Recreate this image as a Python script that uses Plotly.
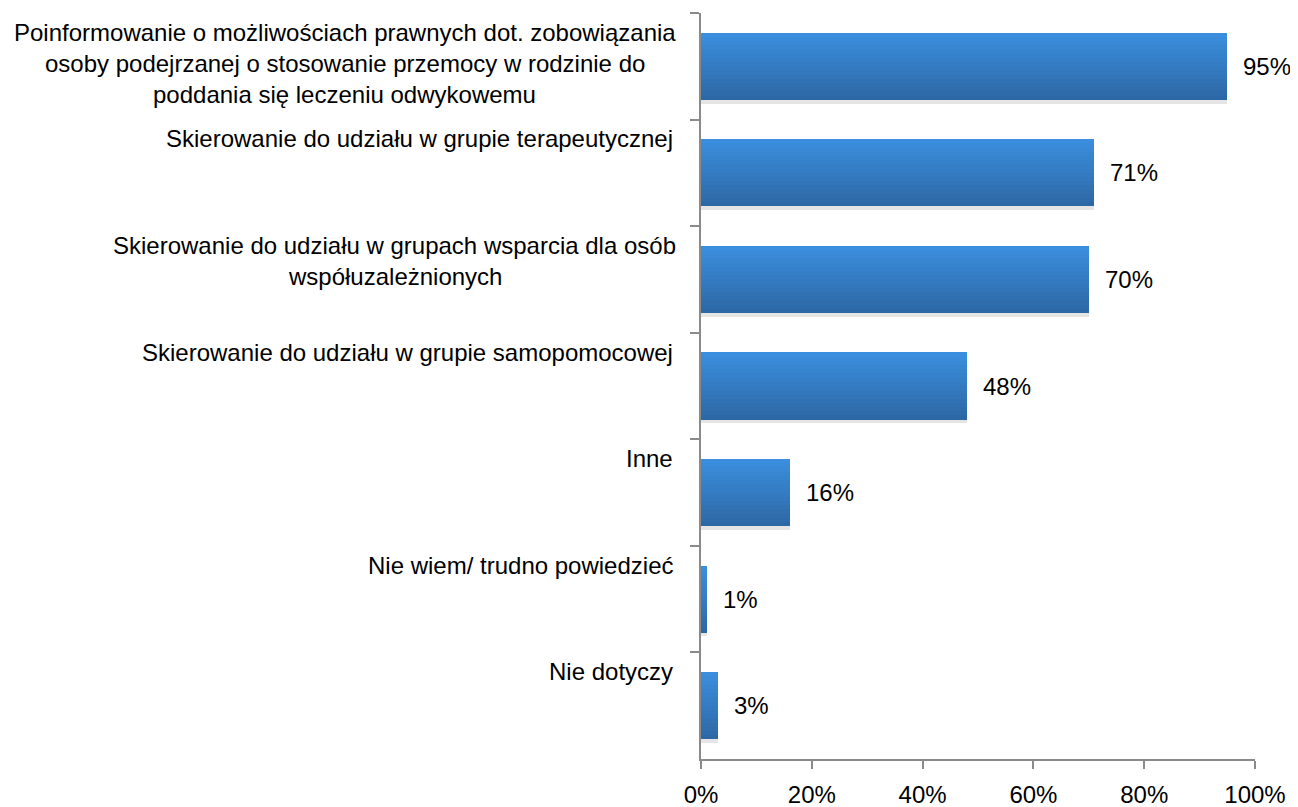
import plotly.graph_objects as go

# ---- data ----
label_lines = [
    ["Poinformowanie o możliwościach prawnych dot. zobowiązania",
     "osoby podejrzanej o stosowanie przemocy w rodzinie do",
     "poddania się leczeniu odwykowemu"],
    ["Skierowanie do udziału w grupie terapeutycznej"],
    ["Skierowanie do udziału w grupach wsparcia dla osób",
     "współuzależnionych"],
    ["Skierowanie do udziału w grupie samopomocowej"],
    ["Inne"],
    ["Nie wiem/ trudno powiedzieć"],
    ["Nie dotyczy"],
]
categories = [" ".join(l) for l in label_lines]
values = [95, 71, 70, 48, 16, 1, 3]
value_labels = ["95%", "71%", "70%", "48%", "16%", "1%", "3%"]
x_ticks = [0, 20, 40, 60, 80, 100]
x_tick_labels = ["0%", "20%", "40%", "60%", "80%", "100%"]

FONT = "Arial, Liberation Sans, sans-serif"
FS = 24
AXIS_COLOR = "#8a8a8a"

# page body has an 8px margin -> compensate so the plot lands where the reference has it
OFF = 8
W, H = 1298 - OFF, 807 - OFF
ML, MR, MT, MB = 701 - OFF, 43, 13 - OFF, 48
PLOT_W = W - ML - MR

fig = go.Figure()

BAR_W = 0.63
# soft shadow under each bar
fig.add_trace(go.Bar(
    x=values, y=categories, orientation="h",
    width=BAR_W, offset=-BAR_W / 2 + 0.035,
    marker=dict(color="rgba(0,0,0,0.10)", line=dict(width=0)),
    hoverinfo="skip", showlegend=False,
))

# vertical gradient built from thin strips
top = (59, 142, 221)
bot = (45, 104, 166)
N = 16
step = BAR_W / N
for i in range(N):
    t = i / (N - 1)
    c = tuple(round(top[k] + (bot[k] - top[k]) * t) for k in range(3))
    fig.add_trace(go.Bar(
        x=values, y=categories, orientation="h",
        width=step * 1.15 if i < N - 1 else step,
        offset=-BAR_W / 2 + i * step,
        marker=dict(color="rgb(%d,%d,%d)" % c, line=dict(width=0)),
        hoverinfo="skip", showlegend=False,
    ))

annotations = []
# value labels
for cat, v, lab in zip(categories, values, value_labels):
    annotations.append(dict(
        x=v, y=cat, xref="x", yref="y", text=lab, showarrow=False,
        xanchor="left", yanchor="middle", xshift=14,
        font=dict(family=FONT, size=FS, color="#000000"),
    ))

# category labels (Excel-like: first line sits above band center)
block_widths = {0: 661, 2: 561}
RIGHT_EDGE = 675 - OFF
LINE_SP = 31
for idx, (cat, lines) in enumerate(zip(categories, label_lines)):
    for k, line in enumerate(lines):
        if len(lines) == 1:
            ax = (RIGHT_EDGE - ML) / PLOT_W
            xa = "right"
        else:
            cx = RIGHT_EDGE - block_widths[idx] / 2
            ax = (cx - ML) / PLOT_W
            xa = "center"
        annotations.append(dict(
            x=ax, y=cat, xref="paper", yref="y", text=line, showarrow=False,
            xanchor=xa, yanchor="middle", yshift=34 - LINE_SP * k,
            font=dict(family=FONT, size=FS, color="#000000"),
        ))

fig.update_layout(
    width=W, height=H,
    margin=dict(l=ML, r=MR, t=MT, b=MB, autoexpand=False),
    paper_bgcolor="white", plot_bgcolor="white",
    barmode="overlay",
    bargap=0,
    showlegend=False,
    annotations=annotations,
    xaxis=dict(
        range=[0, 100], tickvals=x_ticks, ticktext=x_tick_labels,
        showgrid=False, zeroline=False,
        showline=True, linecolor=AXIS_COLOR, linewidth=2,
        ticks="outside", ticklen=8, tickwidth=2, tickcolor=AXIS_COLOR,
        ticklabelstandoff=5,
        tickfont=dict(family=FONT, size=FS, color="#000000"),
        fixedrange=True, automargin=False,
    ),
    yaxis=dict(
        type="category", categoryorder="array", categoryarray=categories,
        range=[len(categories) - 0.5, -0.5],
        showgrid=False, zeroline=False,
        showline=True, linecolor=AXIS_COLOR, linewidth=2,
        ticks="outside", ticklen=9, tickwidth=2, tickcolor=AXIS_COLOR,
        tickson="boundaries", showticklabels=False,
        fixedrange=True, automargin=False,
    ),
)

fig.write_html("out.html", config={"displayModeBar": False})
